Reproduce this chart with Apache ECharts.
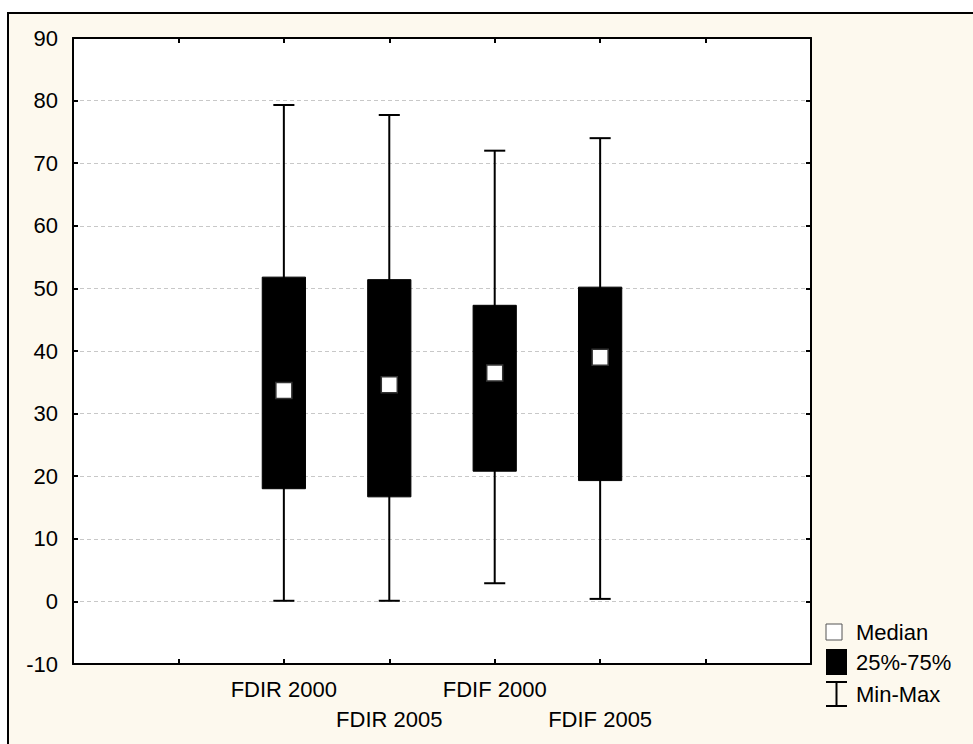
<!DOCTYPE html>
<html>
<head>
<meta charset="utf-8">
<script src="https://cdn.jsdelivr.net/npm/echarts@6/dist/echarts.min.js"></script>
<style>
html,body{margin:0;padding:0;background:#fff;}
#chart{width:973px;height:744px;}
</style>
</head>
<body>
<div id="chart"></div>
<script>
const categories = ['FDIR 2000', 'FDIR 2005', 'FDIF 2000', 'FDIF 2005'];
const minValues = [0.1, 0.1, 2.9, 0.4];
const q1Values = [18.0, 16.7, 20.8, 19.3];
const medianValues = [33.7, 34.6, 36.5, 39.0];
const q3Values = [51.8, 51.4, 47.3, 50.2];
const maxValues = [79.3, 77.7, 72.0, 74.0];
const yTicks = [-10, 0, 10, 20, 30, 40, 50, 60, 70, 80, 90];
const legendLabels = ['Median', '25%-75%', 'Min-Max'];

// empty slots on each side, as in the original layout
const xSlots = ['', ''].concat(categories, ['', '']);
const offset = 2;

const FONT = 'Arial, "Liberation Sans", sans-serif';

const boxData = categories.map((c, i) => [i + offset, minValues[i], q1Values[i], q3Values[i], maxValues[i]]);
const medianData = categories.map((c, i) => [i + offset, medianValues[i]]);

const chart = echarts.init(document.getElementById('chart'), null, {renderer: 'svg'});

function renderBox(params, api) {
  const x = api.value(0);
  const pMin = api.coord([x, api.value(1)]);
  const pQ1 = api.coord([x, api.value(2)]);
  const pQ3 = api.coord([x, api.value(3)]);
  const pMax = api.coord([x, api.value(4)]);
  const band = api.size([1, 0])[0];
  const boxW = band * 0.41;
  const capW = band * 0.2;
  const cx = pMin[0];
  const ls = {stroke: '#000', lineWidth: 2, fill: null};
  return {
    type: 'group',
    children: [
      {type: 'line', shape: {x1: cx, y1: pMax[1], x2: cx, y2: pMin[1]}, style: ls},
      {type: 'line', shape: {x1: cx - capW / 2, y1: pMax[1], x2: cx + capW / 2, y2: pMax[1]}, style: ls},
      {type: 'line', shape: {x1: cx - capW / 2, y1: pMin[1], x2: cx + capW / 2, y2: pMin[1]}, style: ls},
      {type: 'rect', shape: {x: cx - boxW / 2, y: pQ3[1], width: boxW, height: pQ1[1] - pQ3[1]},
        style: {fill: '#000', stroke: '#000', lineWidth: 1}}
    ]
  };
}

const legendX = 826;
const legendY = [632, 662, 694];

const option = {
  backgroundColor: '#fff',
  animation: false,
  graphic: [
    {type: 'rect', z: -100, shape: {x: 8, y: 13, width: 1000, height: 800},
      style: {fill: '#FDF9EE', stroke: '#000', lineWidth: 2}},
    {type: 'rect', z: 10, shape: {x: legendX, y: legendY[0] - 8, width: 16, height: 16},
      style: {fill: '#fff', stroke: '#555', lineWidth: 1}},
    {type: 'text', z: 10, x: legendX + 30, y: legendY[0],
      style: {text: legendLabels[0], font: '22px ' + FONT, fill: '#000', verticalAlign: 'middle'}},
    {type: 'rect', z: 10, shape: {x: legendX, y: legendY[1] - 13, width: 21, height: 26},
      style: {fill: '#000'}},
    {type: 'text', z: 10, x: legendX + 30, y: legendY[1],
      style: {text: legendLabels[1], font: '22px ' + FONT, fill: '#000', verticalAlign: 'middle'}},
    {type: 'polyline', z: 10, shape: {points: [[legendX, legendY[2] - 12], [legendX + 21, legendY[2] - 12]]},
      style: {stroke: '#000', lineWidth: 2}},
    {type: 'polyline', z: 10, shape: {points: [[legendX + 10.5, legendY[2] - 12], [legendX + 10.5, legendY[2] + 12]]},
      style: {stroke: '#000', lineWidth: 2}},
    {type: 'polyline', z: 10, shape: {points: [[legendX, legendY[2] + 12], [legendX + 21, legendY[2] + 12]]},
      style: {stroke: '#000', lineWidth: 2}},
    {type: 'text', z: 10, x: legendX + 30, y: legendY[2],
      style: {text: legendLabels[2], font: '22px ' + FONT, fill: '#000', verticalAlign: 'middle'}}
  ],
  grid: {left: 73, top: 38, right: 162, bottom: 80, show: true, backgroundColor: '#fff', borderWidth: 0},
  xAxis: [
    {
      type: 'category', data: xSlots, boundaryGap: false, position: 'bottom',
      axisLine: {onZero: false, lineStyle: {color: '#000', width: 2}},
      axisTick: {inside: true, length: 5, interval: 0, lineStyle: {color: '#000', width: 2}},
      axisLabel: {
        interval: 0, color: '#000', fontSize: 22, fontFamily: FONT, margin: 10, lineHeight: 30,
        formatter: (v, i) => (i % 2 === 1 ? '\n' + v : v)
      },
      splitLine: {show: false}
    },
    {
      type: 'category', data: xSlots, boundaryGap: false, position: 'top',
      axisLine: {onZero: false, lineStyle: {color: '#000', width: 2}},
      axisTick: {inside: true, length: 5, interval: 0, lineStyle: {color: '#000', width: 2}},
      axisLabel: {show: false},
      splitLine: {show: false}
    }
  ],
  yAxis: [
    {
      type: 'value', min: yTicks[0], max: yTicks[yTicks.length - 1], interval: 10, position: 'left',
      axisLine: {show: true, onZero: false, lineStyle: {color: '#000', width: 2}},
      axisTick: {show: true, inside: true, length: 5, lineStyle: {color: '#000', width: 2}},
      axisLabel: {color: '#000', fontSize: 22, fontFamily: FONT, margin: 15},
      splitLine: {show: true, lineStyle: {color: '#c8c8c8', type: [4, 3], width: 1}}
    },
    {
      type: 'value', min: yTicks[0], max: yTicks[yTicks.length - 1], interval: 10, position: 'right',
      axisLine: {show: true, onZero: false, lineStyle: {color: '#000', width: 2}},
      axisTick: {show: true, inside: true, length: 5, lineStyle: {color: '#000', width: 2}},
      axisLabel: {show: false},
      splitLine: {show: false}
    }
  ],
  series: [
    {
      type: 'custom', name: 'Min-Max / 25%-75%', xAxisIndex: 0, yAxisIndex: 0,
      renderItem: renderBox, data: boxData, encode: {x: 0, y: [1, 2, 3, 4]}, z: 3
    },
    {
      type: 'scatter', name: 'Median', xAxisIndex: 0, yAxisIndex: 0,
      data: medianData, symbol: 'rect', symbolSize: 16, z: 5,
      itemStyle: {color: '#fff', borderColor: '#333', borderWidth: 1.5, opacity: 1}
    }
  ]
};
chart.setOption(option);
</script>
</body>
</html>
